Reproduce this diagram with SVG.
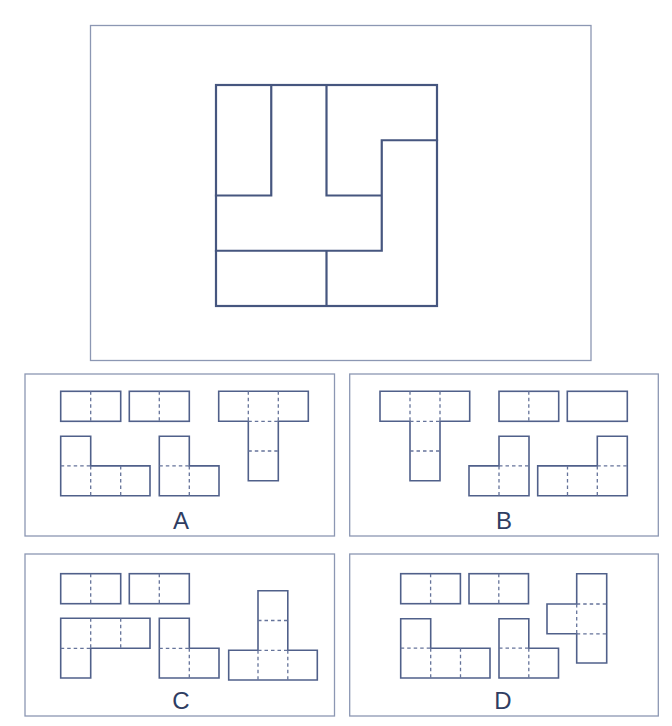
<svg xmlns="http://www.w3.org/2000/svg" width="672" height="726" viewBox="0 0 672 726">
<style>
.frame{fill:none;stroke:#8c97b3;stroke-width:1.3}
.main{fill:none;stroke:#46567f;stroke-width:2.2;stroke-linecap:square}
.pc{fill:none;stroke:#50608a;stroke-width:1.6;stroke-linejoin:miter}
.ds{fill:none;stroke:#65739a;stroke-width:1.3;stroke-dasharray:3.5,3}
.lbl{font-family:"Liberation Sans",Arial,sans-serif;font-size:24px;fill:#2f3d62;text-anchor:middle}
</style>
<rect width="672" height="726" fill="#ffffff"/>
<g id="question">
<rect class="frame" x="90.5" y="25.5" width="500.5" height="335"/>
<rect class="main" x="216" y="85" width="221" height="221"/>
<path class="main" d="M271.25 85V195.5H216 M326.5 85V195.5H381.75 M381.75 250.75V140.25H437 M216 250.75H381.75 M326.5 250.75V306"/>
</g>
<g id="optionA">
<rect class="frame" x="25" y="374" width="309.5" height="162"/>
<rect class="pc" x="60.7" y="391.3" width="60" height="30"/>
<path class="ds" d="M90.7 391.3V421.3"/>
<rect class="pc" x="129.3" y="391.3" width="60" height="30"/>
<path class="ds" d="M159.3 391.3V421.3"/>
<path class="pc" d="M218.7 391.3H308.3V421.3H278.3V480.7H248.3V421.3H218.7Z"/>
<path class="ds" d="M248.3 391.3V421.3 M278.3 391.3V421.3 M248.3 421.3H278.3 M248.3 451H278.3"/>
<path class="pc" d="M60.7 436.3H90.7V465.9H150V495.7H60.7Z"/>
<path class="ds" d="M60.7 465.9H90.7 M90.7 465.9V495.7 M120.7 465.9V495.7"/>
<path class="pc" d="M159.3 436.3H189.3V465.9H219V495.7H159.3Z"/>
<path class="ds" d="M159.3 465.9H189.3 M189.3 465.9V495.7"/>
<text class="lbl" x="181" y="529">A</text>
</g>
<g id="optionB">
<rect class="frame" x="349.7" y="374" width="308.6" height="162"/>
<path class="pc" d="M380 391.3H469.7V421.3H440V480.7H410V421.3H380Z"/>
<path class="ds" d="M410 391.3V421.3 M440 391.3V421.3 M410 421.3H440 M410 451H440"/>
<rect class="pc" x="499" y="391.3" width="59.7" height="30"/>
<path class="ds" d="M528.8 391.3V421.3"/>
<rect class="pc" x="567.3" y="391.3" width="60" height="30"/>
<path class="pc" d="M499 436.3H529V495.7H469V465.9H499Z"/>
<path class="ds" d="M499 465.9H529 M499 465.9V495.7"/>
<path class="pc" d="M597.3 436.3H627.3V495.7H537.7V465.9H597.3Z"/>
<path class="ds" d="M597.3 465.9H627.3 M567.5 465.9V495.7 M597.3 465.9V495.7"/>
<text class="lbl" x="504" y="529">B</text>
</g>
<g id="optionC">
<rect class="frame" x="25" y="554" width="309.5" height="162"/>
<rect class="pc" x="60.7" y="573.7" width="60" height="30"/>
<path class="ds" d="M90.7 573.7V603.7"/>
<rect class="pc" x="129.3" y="573.7" width="60" height="30"/>
<path class="ds" d="M159.3 573.7V603.7"/>
<path class="pc" d="M60.7 618.3H150V648.3H90.7V678H60.7Z"/>
<path class="ds" d="M90.7 618.3V648.3 M120.7 618.3V648.3 M60.7 648.3H90.7"/>
<path class="pc" d="M159.3 618.3H189.3V648.3H219V678H159.3Z"/>
<path class="ds" d="M159.3 648.3H189.3 M189.3 648.3V678"/>
<path class="pc" d="M258 590.7H287.8V650.3H317.3V680H228.7V650.3H258Z"/>
<path class="ds" d="M258 620.5H287.8 M258 650.3H287.8 M258 650.3V680 M287.8 650.3V680"/>
<text class="lbl" x="181" y="709">C</text>
</g>
<g id="optionD">
<rect class="frame" x="349.7" y="554" width="308.6" height="162"/>
<rect class="pc" x="400.7" y="573.7" width="59.7" height="30"/>
<path class="ds" d="M430.6 573.7V603.7"/>
<rect class="pc" x="469" y="573.7" width="59.5" height="30"/>
<path class="ds" d="M498.8 573.7V603.7"/>
<path class="pc" d="M400.7 618.7H430.7V648.2H490V678H400.7Z"/>
<path class="ds" d="M400.7 648.2H430.7 M430.7 648.2V678 M460.5 648.2V678"/>
<path class="pc" d="M499 618.7H528.8V648.2H558.5V678H499Z"/>
<path class="ds" d="M499 648.2H528.8 M528.8 648.2V678"/>
<path class="pc" d="M576.7 573.7H606.7V663H576.7V633.8H547V604H576.7Z"/>
<path class="ds" d="M576.7 604H606.7 M576.7 633.8H606.7 M576.7 604V633.8"/>
<text class="lbl" x="503" y="709">D</text>
</g>
</svg>
